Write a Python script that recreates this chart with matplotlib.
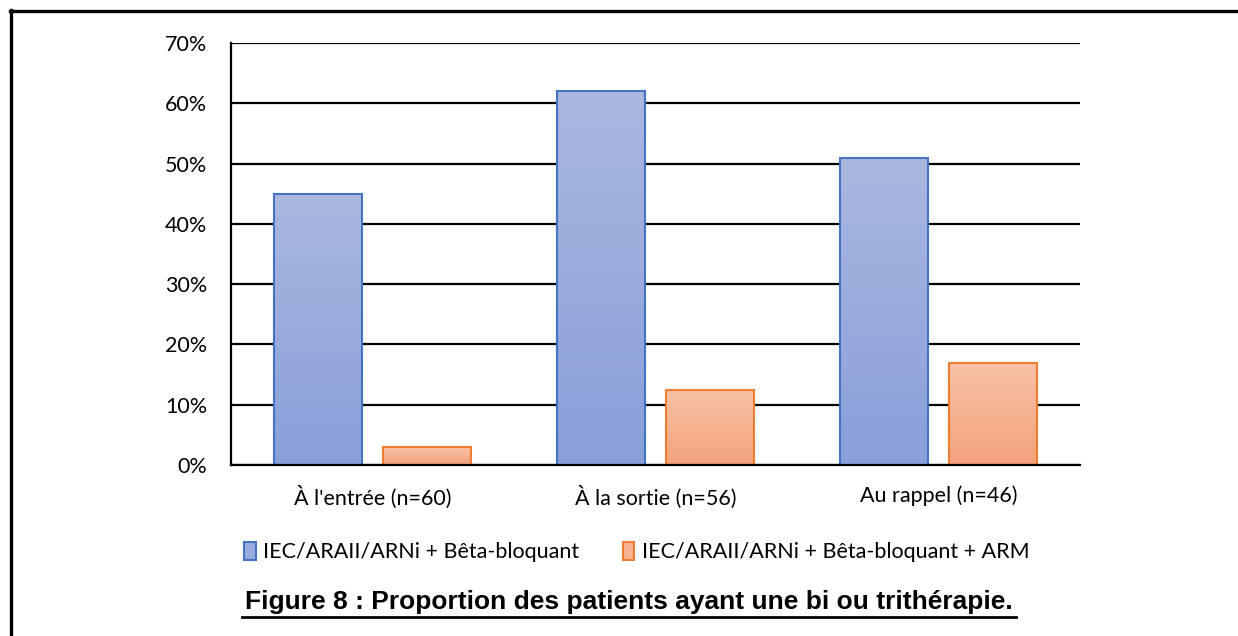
import matplotlib
matplotlib.use("Agg")
import matplotlib.pyplot as plt
import numpy as np
from matplotlib.lines import Line2D
from matplotlib.patches import Rectangle
from matplotlib.colors import LinearSegmentedColormap
from matplotlib.ticker import PercentFormatter, MultipleLocator

categories = ["À l'entrée (n=60)", "À la sortie (n=56)", "Au rappel (n=46)"]
series_names = ["IEC/ARAII/ARNi + Bêta-bloquant", "IEC/ARAII/ARNi + Bêta-bloquant + ARM"]
bi_therapy = [45, 62, 51]
tri_therapy = [3, 12.5, 17]
title = "Figure 8 : Proportion des patients ayant une bi ou trithérapie."

W, H = 1238, 636
fig = plt.figure(figsize=(W / 100, H / 100), dpi=100)
ax = fig.add_axes([231 / W, 1 - 465 / H, (1080 - 231) / W, (465 - 43) / H])

font = "Lato"
x = np.arange(len(categories))
width = 0.311
offset = 0.191

styles = [
    dict(top="#AAB8E0", bottom="#889FD8", edge="#4472C4"),
    dict(top="#F8C2A7", bottom="#F4A27B", edge="#ED7D31"),
]

for vals, off, st in [(bi_therapy, -offset, styles[0]), (tri_therapy, offset, styles[1])]:
    bars = ax.bar(x + off, vals, width, facecolor="none", edgecolor=st["edge"], linewidth=1.5, zorder=4)
    cmap = LinearSegmentedColormap.from_list("g", [st["bottom"], st["top"]])
    grad = np.linspace(0, 1, 256).reshape(-1, 1)
    for b in bars:
        x0, y0 = b.get_x(), b.get_y()
        w, h = b.get_width(), b.get_height()
        im = ax.imshow(grad, cmap=cmap, origin="lower", aspect="auto",
                       extent=[x0, x0 + w, y0, y0 + h], zorder=3)
        clip = Rectangle((x0, y0), w, h, transform=ax.transData, facecolor="none", edgecolor="none")
        ax.add_patch(clip)
        im.set_clip_path(clip)

ax.set_xlim(-0.5, 2.5)
ax.set_ylim(0, 70)
ax.yaxis.set_major_locator(MultipleLocator(10))
ax.yaxis.set_major_formatter(PercentFormatter(decimals=0))
ax.grid(axis="y", color="black", linewidth=1.6, zorder=1)
ax.set_axisbelow(True)
for s in ["top", "right"]:
    ax.spines[s].set_visible(False)
ax.spines["left"].set_linewidth(1.6)
ax.spines["bottom"].set_linewidth(1.6)
ax.spines["bottom"].set_zorder(5)
ax.tick_params(length=0, labelsize=15.5)
ax.tick_params(axis="y", pad=17)
ax.tick_params(axis="x", pad=15)
ax.set_xticks(x)
ax.set_xticklabels(categories)
for lab in ax.get_xticklabels() + ax.get_yticklabels():
    lab.set_fontfamily(font)

handles = [Rectangle((0, 0), 1, 1, facecolor="#98ABDC", edgecolor="#4472C4", linewidth=1.5),
           Rectangle((0, 0), 1, 1, facecolor="#F6B293", edgecolor="#ED7D31", linewidth=1.5)]
fig.legend(handles, series_names, loc="center left", bbox_to_anchor=(244 / W, 1 - 552 / H),
           ncol=2, frameon=False, prop=dict(family=font, size=15.5),
           handlelength=0.55, handleheight=0.9, handletextpad=0.35, columnspacing=2.0, borderaxespad=0,
           borderpad=0)

fig.text(629 / W, 1 - 609 / H, title, ha="center", va="baseline",
         fontfamily="Liberation Sans", fontweight="bold", fontsize=19)
fig.add_artist(Line2D([242 / W, 1016 / W], [1 - 617 / H, 1 - 617 / H], color="black", linewidth=2.0))

fig.add_artist(Line2D([10.5 / W, 10.5 / W], [0, 1 - 10 / H], color="black", linewidth=2.4))
fig.add_artist(Line2D([10 / W, 1], [1 - 10.5 / H, 1 - 10.5 / H], color="black", linewidth=2.4))

fig.savefig("out.png", dpi=100)
